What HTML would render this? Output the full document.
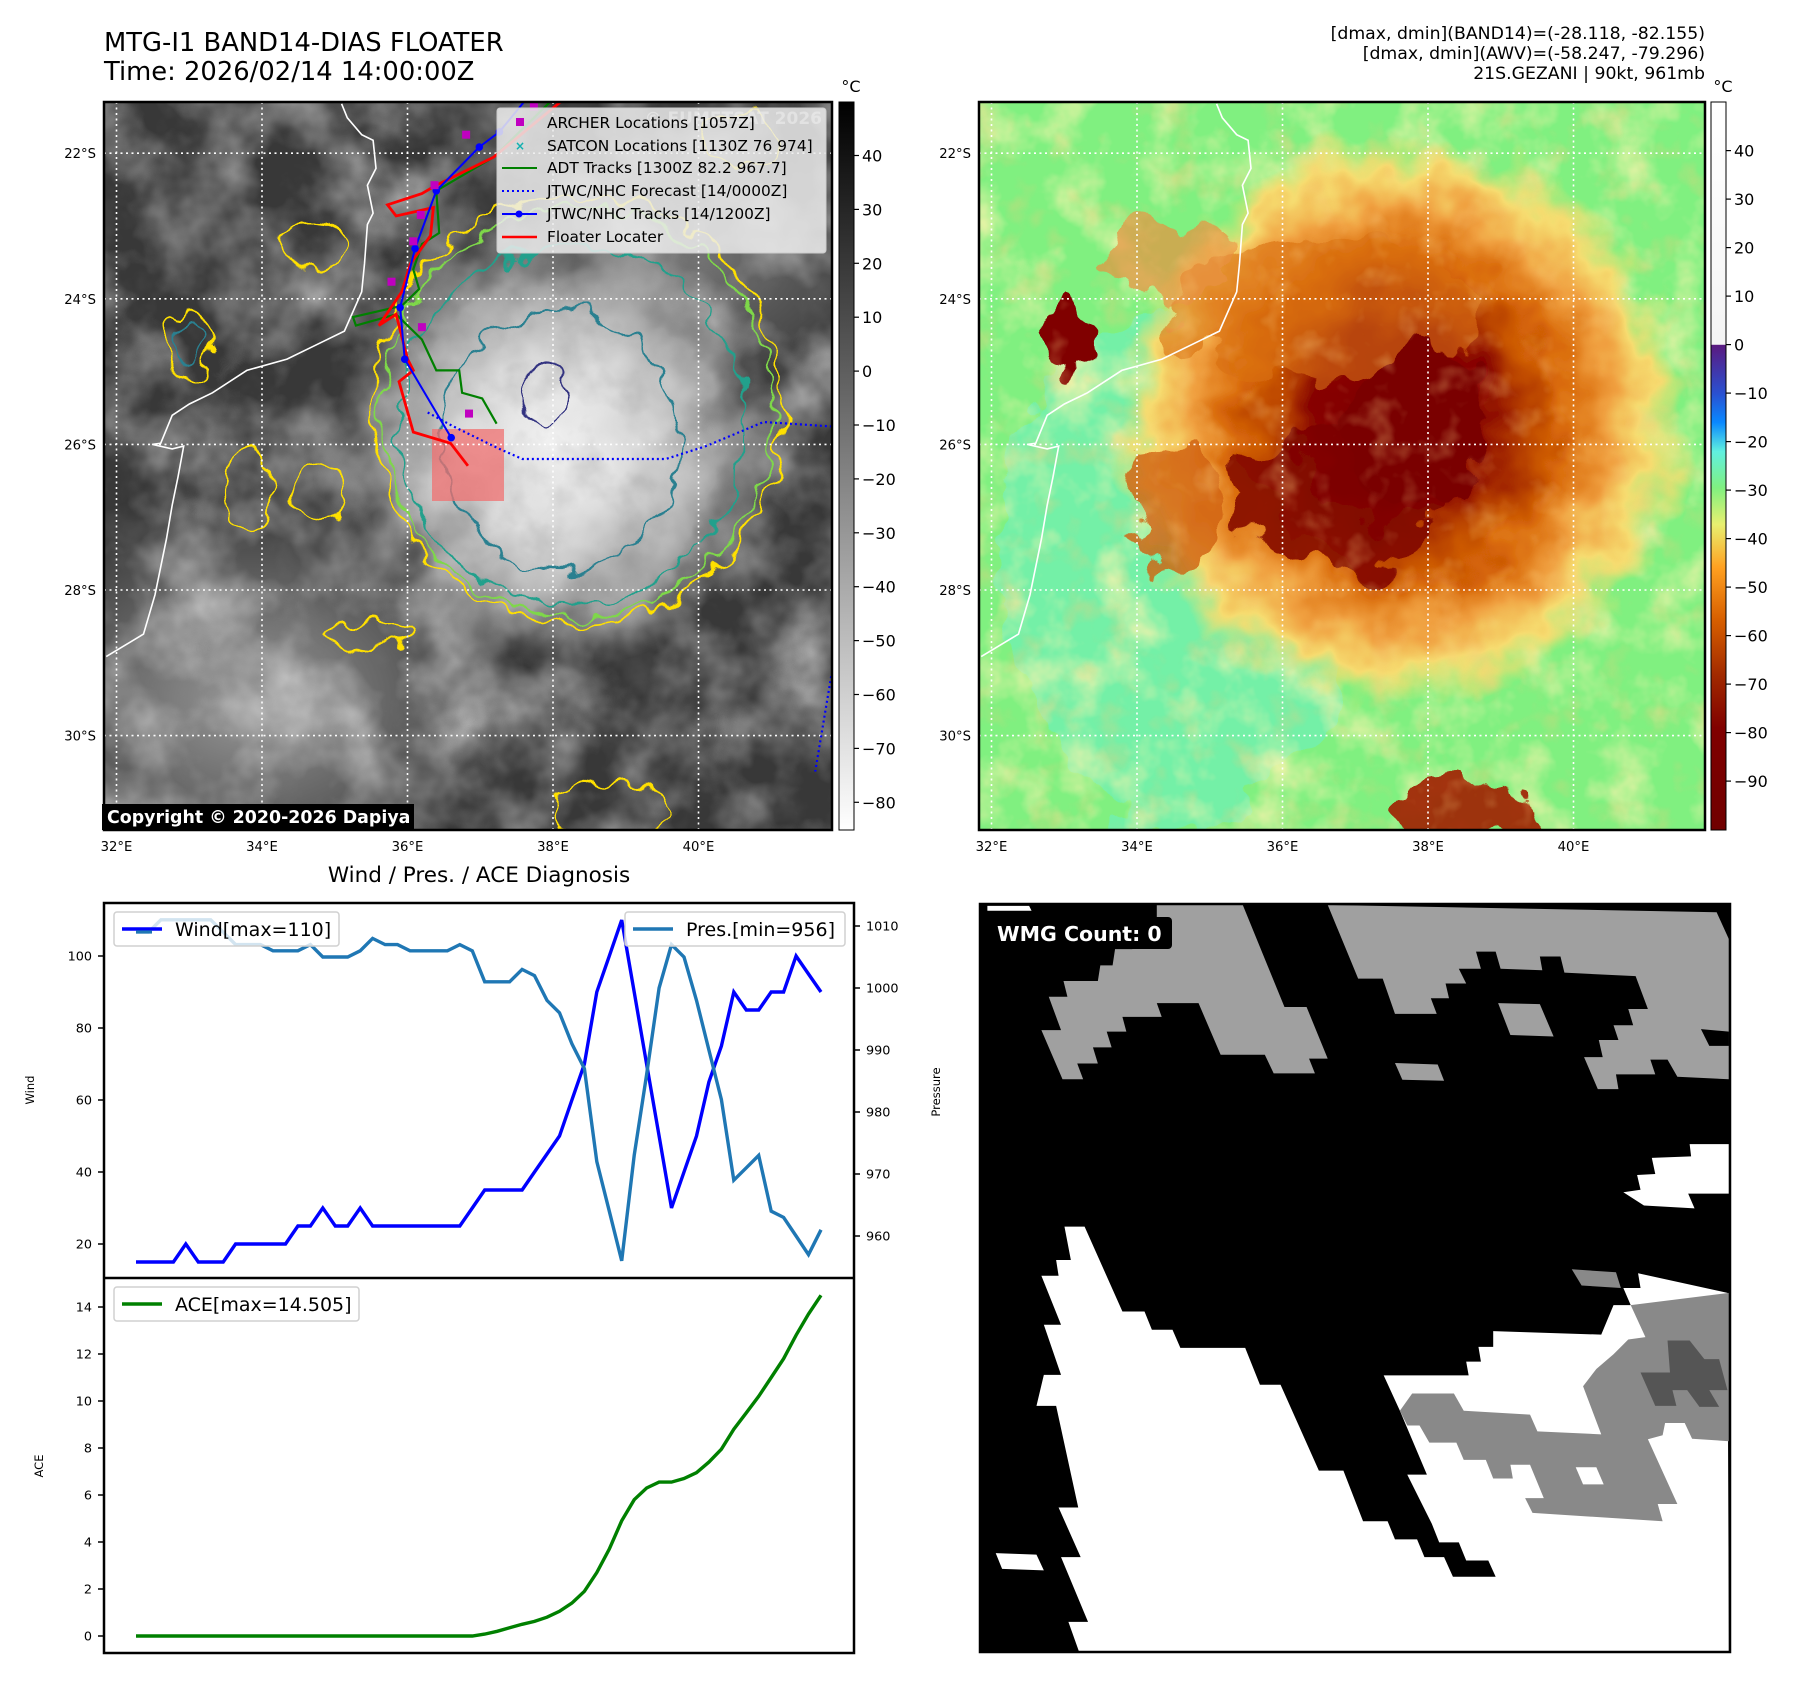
<!DOCTYPE html>
<html><head><meta charset="utf-8"><title>MTG-I1 BAND14 Floater</title>
<style>
html,body{margin:0;padding:0;background:#fff;}
body{width:1797px;height:1690px;overflow:hidden;font-family:"Liberation Sans","DejaVu Sans",sans-serif;}
svg text{font-family:"DejaVu Sans","Liberation Sans",sans-serif;}
</style></head>
<body>
<svg id="root" width="1797" height="1690" viewBox="0 0 1797 1690" xmlns="http://www.w3.org/2000/svg">
<defs>
  <clipPath id="clip1"><rect x="104" y="102" width="728" height="728"/></clipPath>
  <clipPath id="clip2"><rect x="979" y="102" width="726" height="728"/></clipPath>
  <clipPath id="clip3"><rect x="980" y="904" width="750" height="748"/></clipPath>
  <filter id="cloudNoise" x="0" y="0" width="100%" height="100%">
    <feTurbulence type="fractalNoise" baseFrequency="0.012" numOctaves="4" seed="7"/>
    <feColorMatrix type="matrix" values="0 0 0 0 1  0 0 0 0 1  0 0 0 0 1  1.2 0 0 0 -0.45"/>
  </filter>
  <filter id="darkNoise" x="0" y="0" width="100%" height="100%">
    <feTurbulence type="fractalNoise" baseFrequency="0.02" numOctaves="4" seed="19"/>
    <feColorMatrix type="matrix" values="0 0 0 0 0.2  0 0 0 0 0.2  0 0 0 0 0.2  1.3 0 0 0 -0.6"/>
  </filter>
  <filter id="greenNoise" x="0" y="0" width="100%" height="100%">
    <feTurbulence type="fractalNoise" baseFrequency="0.02" numOctaves="4" seed="3"/>
    <feColorMatrix type="matrix" values="0 0 0 0 0.97  0 0 0 0 0.9  0 0 0 0 0.42  1.8 0 0 0 -0.8"/>
  </filter>
  <filter id="orangeNoise" x="0" y="0" width="100%" height="100%">
    <feTurbulence type="fractalNoise" baseFrequency="0.03" numOctaves="3" seed="23"/>
    <feColorMatrix type="matrix" values="0 0 0 0 0.95  0 0 0 0 0.6  0 0 0 0 0.2  1.6 0 0 0 -0.85"/>
  </filter>
  <filter id="wobble" x="-20%" y="-20%" width="140%" height="140%">
    <feTurbulence type="fractalNoise" baseFrequency="0.035" numOctaves="2" seed="5" result="t"/>
    <feDisplacementMap in="SourceGraphic" in2="t" scale="34" xChannelSelector="R" yChannelSelector="G"/>
  </filter>
  <filter id="wobbleBig" x="-20%" y="-20%" width="140%" height="140%">
    <feTurbulence type="fractalNoise" baseFrequency="0.02" numOctaves="3" seed="11" result="t"/>
    <feDisplacementMap in="SourceGraphic" in2="t" scale="70" xChannelSelector="R" yChannelSelector="G"/>
  </filter>
  <radialGradient id="stormGray" cx="0.5" cy="0.5" r="0.5">
    <stop offset="0" stop-color="#f2f2f2"/>
    <stop offset="0.35" stop-color="#dcdcdc"/>
    <stop offset="0.7" stop-color="#a4a4a4"/>
    <stop offset="1" stop-color="#707070" stop-opacity="0"/>
  </radialGradient>
  <radialGradient id="lightPatch" cx="0.5" cy="0.5" r="0.5">
    <stop offset="0" stop-color="#9a9a9a"/>
    <stop offset="1" stop-color="#9a9a9a" stop-opacity="0"/>
  </radialGradient>
  <radialGradient id="stormColor" cx="0.5" cy="0.5" r="0.5">
    <stop offset="0" stop-color="#7a0000"/>
    <stop offset="0.3" stop-color="#880600"/>
    <stop offset="0.42" stop-color="#b03800"/>
    <stop offset="0.58" stop-color="#d86808"/>
    <stop offset="0.74" stop-color="#f0a040"/>
    <stop offset="0.87" stop-color="#f6dc70"/>
    <stop offset="1" stop-color="#f6e070" stop-opacity="0"/>
  </radialGradient>
  <linearGradient id="cb1" x1="0" y1="0" x2="0" y2="1">
    <stop offset="0" stop-color="#000"/><stop offset="1" stop-color="#fff"/>
  </linearGradient>
  <linearGradient id="cb2" x1="0" y1="0" x2="0" y2="1">
    <stop offset="0" stop-color="#ffffff"/>
    <stop offset="0.333" stop-color="#f4f4f4"/>
    <stop offset="0.334" stop-color="#5a1a80"/>
    <stop offset="0.40" stop-color="#2a50d0"/>
    <stop offset="0.44" stop-color="#0a88ff"/>
    <stop offset="0.48" stop-color="#60f0e0"/>
    <stop offset="0.53" stop-color="#80f080"/>
    <stop offset="0.58" stop-color="#e8f070"/>
    <stop offset="0.64" stop-color="#ffa020"/>
    <stop offset="0.71" stop-color="#d86000"/>
    <stop offset="0.79" stop-color="#a02800"/>
    <stop offset="0.86" stop-color="#800000"/>
    <stop offset="1" stop-color="#700000"/>
  </linearGradient>
</defs>

<!-- titles -->
<text x="104" y="51" font-size="25.8" fill="#000">MTG-I1 BAND14-DIAS FLOATER</text>
<text x="104" y="80" font-size="25.8" fill="#000">Time: 2026/02/14 14:00:00Z</text>
<g font-size="17.3" text-anchor="end" fill="#000">
  <text x="1705" y="39">[dmax, dmin](BAND14)=(-28.118, -82.155)</text>
  <text x="1705" y="59">[dmax, dmin](AWV)=(-58.247, -79.296)</text>
  <text x="1705" y="79">21S.GEZANI | 90kt, 961mb</text>
</g>

<!-- MAP 1 -->
<g id="map1">
  <g clip-path="url(#clip1)">
    <rect x="104" y="102" width="728" height="728" fill="#383838"/>
    <ellipse cx="250" cy="700" rx="260" ry="200" fill="url(#lightPatch)"/>
    <ellipse cx="700" cy="260" rx="200" ry="140" fill="url(#lightPatch)" opacity="0.6"/>
    <rect x="104" y="102" width="728" height="728" filter="url(#cloudNoise)"/>
    <g filter="url(#wobbleBig)">
      <ellipse cx="555" cy="445" rx="230" ry="230" fill="url(#stormGray)"/>
    </g>
    <rect x="104" y="102" width="728" height="728" filter="url(#darkNoise)" opacity="0.5"/>
    <g fill="none" stroke-width="2.2" filter="url(#wobble)">
      <ellipse cx="577" cy="410" rx="205" ry="215" stroke="#ffe000"/>
      <ellipse cx="577" cy="412" rx="196" ry="206" stroke="#7ed84a"/>
      <ellipse cx="572" cy="425" rx="172" ry="180" stroke="#22a08c"/>
      <ellipse cx="560" cy="440" rx="120" ry="130" stroke="#2a8090"/>
      <ellipse cx="545" cy="395" rx="22" ry="30" stroke="#303080"/>
      <ellipse cx="188" cy="345" rx="24" ry="34" stroke="#ffe000"/>
      <ellipse cx="188" cy="345" rx="14" ry="22" stroke="#2a8090"/>
      <ellipse cx="250" cy="490" rx="24" ry="40" stroke="#ffe000"/>
      <ellipse cx="320" cy="495" rx="25" ry="30" stroke="#ffe000"/>
      <ellipse cx="370" cy="635" rx="45" ry="14" stroke="#ffe000"/>
      <ellipse cx="610" cy="810" rx="60" ry="30" stroke="#ffe000"/>
      <ellipse cx="315" cy="245" rx="30" ry="25" stroke="#ffe000"/>
      <ellipse cx="740" cy="140" rx="40" ry="25" stroke="#ffe000"/>
    </g>
    <rect x="432" y="429" width="72" height="72" fill="#f07070" opacity="0.75"/>
    <g id="grid1" stroke="#fff" stroke-width="1.6" stroke-dasharray="2,3.5"></g>
    <polyline id="coast1" fill="none" stroke="#fff" stroke-width="1.6"/>
    <g id="tracks1"></g>
    <text x="822" y="124" font-size="17" font-weight="bold" fill="#fff" opacity="0.55" text-anchor="end">© EUMETSAT 2026</text>
  </g>
  <rect x="104" y="102" width="728" height="728" fill="none" stroke="#000" stroke-width="2.5"/>
  <g>
    <rect x="497" y="108" width="329" height="145" rx="3" fill="#ececec" fill-opacity="0.85" stroke="#ccc"/>
    <g font-size="15.4" fill="#000">
      <rect x="516" y="118" width="8" height="8" fill="#c000c0"/>
      <text x="547" y="128">ARCHER Locations [1057Z]</text>
      <text x="520" y="150" font-size="12" fill="#10b0b0" text-anchor="middle" font-weight="bold">×</text>
      <text x="547" y="151">SATCON Locations [1130Z 76 974]</text>
      <line x1="502" y1="168" x2="537" y2="168" stroke="#008000" stroke-width="2"/>
      <text x="547" y="173">ADT Tracks [1300Z 82.2 967.7]</text>
      <line x1="502" y1="191" x2="537" y2="191" stroke="#0000ff" stroke-width="2" stroke-dasharray="2,3"/>
      <text x="547" y="196">JTWC/NHC Forecast [14/0000Z]</text>
      <line x1="502" y1="214" x2="537" y2="214" stroke="#0000ff" stroke-width="2"/>
      <circle cx="519" cy="214" r="3.5" fill="#0000ff"/>
      <text x="547" y="219">JTWC/NHC Tracks [14/1200Z]</text>
      <line x1="502" y1="237" x2="537" y2="237" stroke="#ff0000" stroke-width="2.5"/>
      <text x="547" y="242">Floater Locater</text>
    </g>
  </g>
  <g>
    <rect x="102" y="804" width="312" height="26" fill="#000"/>
    <text x="107" y="823" font-size="17.4" font-weight="bold" fill="#fff">Copyright © 2020-2026 Dapiya</text>
  </g>
  <g id="ticks1" font-size="13.2" fill="#000"></g>
  <rect x="839" y="102" width="15" height="728" fill="url(#cb1)" stroke="#000" stroke-width="1"/>
  <text x="851" y="92" font-size="16" text-anchor="middle">°C</text>
  <g id="cbt1" font-size="16" fill="#000"></g>
</g>

<!-- MAP 2 -->
<g id="map2">
  <g clip-path="url(#clip2)">
    <rect x="979" y="102" width="726" height="728" fill="#80f080"/>
    <ellipse cx="1180" cy="560" rx="180" ry="260" fill="#70f0b8" opacity="0.7" filter="url(#wobbleBig)"/>
    <rect x="979" y="102" width="726" height="728" filter="url(#greenNoise)"/>
    <g filter="url(#wobbleBig)">
      <ellipse cx="1400" cy="420" rx="285" ry="285" fill="url(#stormColor)"/>
      <ellipse cx="1330" cy="310" rx="160" ry="70" fill="#d87010" opacity="0.6"/>
      <ellipse cx="1420" cy="430" rx="70" ry="80" fill="#7a0000"/>
      <ellipse cx="1340" cy="500" rx="100" ry="70" fill="#7a0000" opacity="0.8"/>
      <ellipse cx="1180" cy="510" rx="45" ry="70" fill="#d06010" opacity="0.8"/>
      <ellipse cx="1470" cy="815" rx="80" ry="30" fill="#a02000" opacity="0.9"/>
      <ellipse cx="1070" cy="345" rx="24" ry="33" fill="#800000"/>
      <ellipse cx="1170" cy="260" rx="60" ry="40" fill="#e89040" opacity="0.7"/>
    </g>
    <rect x="979" y="102" width="726" height="728" filter="url(#orangeNoise)" opacity="0.6"/>
    <g id="grid2" stroke="#fff" stroke-width="1.6" stroke-dasharray="2,3.5"></g>
    <polyline id="coast2" fill="none" stroke="#fff" stroke-width="1.6"/>
  </g>
  <rect x="979" y="102" width="726" height="728" fill="none" stroke="#000" stroke-width="2.5"/>
  <g id="ticks2" font-size="13.2" fill="#000"></g>
  <rect x="1711" y="102" width="15" height="728" fill="url(#cb2)" stroke="#000" stroke-width="1"/>
  <text x="1723" y="92" font-size="16" text-anchor="middle">°C</text>
  <g id="cbt2" font-size="16" fill="#000"></g>
</g>

<!-- DIAGNOSIS CHART -->
<text x="479" y="882" font-size="21.5" text-anchor="middle">Wind / Pres. / ACE Diagnosis</text>
<g id="chart"></g>

<!-- WMG PANEL -->
<g>
  <g clip-path="url(#clip3)">
    <g transform="translate(980,900) scale(0.4911)">
      <rect x="0" y="0" width="1530" height="1540" fill="#000"/>
      <polygon fill="#fff" points="172,665 213,665 290,838 335,838 350,875 392,875 408,912 540,912 570,987 612,987 690,1162 740,1162 780,1265 830,1265 845,1302 890,1302 905,1338 945,1338 963,1378 1050,1378 1035,1345 990,1345 975,1308 935,1308 920,1270 870,1170 910,1170 855,1040 822,968 995,968 990,940 1020,940 1015,910 1045,910 1045,878 1265,885 1290,825 1325,825 1310,790 1345,790 1340,760 1522,800 1525,1540 205,1540 180,1470 220,1470 165,1338 205,1338 160,1237 200,1237 155,1030 115,1030 130,967 165,967 130,865 165,865 125,765 160,765 155,733 185,733"/>
      <polygon fill="#898989" points="855,1040 880,1005 965,1005 985,1040 1120,1048 1135,1082 1265,1088 1228,990 1255,955 1290,925 1320,895 1355,890 1325,825 1525,800 1525,1102 1450,1097 1435,1065 1395,1065 1390,1090 1360,1098 1420,1230 1380,1230 1390,1265 1125,1248 1110,1218 1148,1218 1120,1150 1080,1150 1085,1178 1045,1178 1030,1140 985,1140 970,1105 915,1105 895,1070 870,1070"/>
      <polygon fill="#fff" points="1213,1155 1255,1155 1270,1190 1228,1190"/>
      <polygon fill="#898989" points="1205,752 1295,758 1305,790 1225,785"/>
      <polygon fill="#555" points="1345,962 1405,962 1400,897 1445,897 1475,935 1505,935 1522,998 1485,998 1505,1032 1465,1032 1440,998 1410,998 1418,1030 1375,1030"/>
      <polygon fill="#a0a0a0" points="360,10 535,10 620,218 665,218 708,323 670,323 682,353 598,353 580,315 490,315 445,210 360,210 370,238 290,238 298,268 258,268 268,300 230,300 240,333 198,333 210,365 168,365 125,265 165,265 140,197 178,197 170,165 240,165 245,133 270,133 275,100 310,100 330,45 360,45"/>
      <polygon fill="#a0a0a0" points="708,10 1500,25 1525,80 1525,365 1420,360 1400,325 1365,325 1375,355 1295,355 1300,385 1258,385 1230,320 1268,320 1260,285 1300,285 1290,255 1330,255 1320,222 1360,222 1335,155 1190,148 1182,115 1140,115 1145,143 1060,140 1050,105 1010,105 1020,140 975,140 990,170 948,170 955,200 918,200 930,232 845,232 820,160 770,160"/>
      <polygon fill="#000" points="1468,263 1525,268 1525,297 1485,297"/>
      <polygon fill="#a0a0a0" points="1055,210 1140,212 1168,278 1080,275"/>
      <polygon fill="#a0a0a0" points="845,332 932,335 945,368 860,366"/>
      <polygon fill="#fff" points="1445,497 1525,497 1525,598 1442,598 1455,628 1352,622 1310,595 1345,590 1338,560 1375,558 1368,525 1448,522"/>
      <polygon fill="#fff" points="32,1330 115,1333 130,1365 45,1362"/>
      <polygon fill="#fff" points="15,12 100,12 105,22 15,22"/>
    </g>
  </g>
  <rect x="980" y="904" width="750" height="748" fill="none" stroke="#000" stroke-width="2.5"/>
  <rect x="990" y="917" width="182" height="32" rx="4" fill="#000"/>
  <text x="997" y="941" font-size="20.5" font-weight="bold" fill="#fff">WMG Count: 0</text>
</g>
</svg>

<script>
// ---- chart data ----
const windValues = [15,15,15,15,20,15,15,15,20,20,20,20,20,25,25,30,25,25,30,25,25,25,25,25,25,25,25,30,35,35,35,35,40,45,50,60,70,90,100,110,90,70,50,30,40,50,65,75,90,85,85,90,90,100,95,90];
const presValues = [1009,1009,1011,1011,1011,1011,1011,1009,1007,1007,1007,1006,1006,1006,1007,1005,1005,1005,1006,1008,1007,1007,1006,1006,1006,1006,1007,1006,1001,1001,1001,1003,1002,998,996,991,987,972,964,956,973,986,1000,1007,1005,998,990,982,969,971,973,964,963,960,957,961];
const aceValues = [0,0,0,0,0,0,0,0,0,0,0,0,0,0,0,0,0,0,0,0,0,0,0,0,0,0,0,0,0.08,0.2,0.35,0.5,0.62,0.8,1.05,1.4,1.9,2.7,3.7,4.9,5.8,6.3,6.55,6.55,6.7,6.95,7.4,7.95,8.8,9.5,10.2,11.0,11.8,12.8,13.7,14.5];
const windTicks = [20,40,60,80,100];
const presTicks = [960,970,980,990,1000,1010];
const aceTicks = [0,2,4,6,8,10,12,14];
const lonTicks = [32,34,36,38,40];
const latTicks = [22,24,26,28,30];
const cb1Ticks = [40,30,20,10,0,-10,-20,-30,-40,-50,-60,-70,-80];
const cb2Ticks = [40,30,20,10,0,-10,-20,-30,-40,-50,-60,-70,-80,-90];

const NS='http://www.w3.org/2000/svg';
function mk(tag, attrs, parent){const e=document.createElementNS(NS,tag);for(const k in attrs)e.setAttribute(k,attrs[k]);if(parent)parent.appendChild(e);return e;}
const fmt = v => (v<0?'\u2212'+Math.abs(v):String(v));

// ---- map axes ----
function lonX(lon, off){return off + 116.5 + (lon-32)*72.75;}
function latY(lat){return 153.2 + (lat-22)*72.8;}
function buildMap(gridId, ticksId, off, x0, x1){
  const g=document.getElementById(gridId), t=document.getElementById(ticksId);
  lonTicks.forEach(lon=>{
    const x=lonX(lon,off);
    const l=mk('line',{x1:x,y1:102,x2:x,y2:830},g);
    
    
    const tx=mk('text',{x:x,y:851,'text-anchor':'middle'},t);tx.textContent=lon+'°E';
    
    
  });
  latTicks.forEach(lat=>{
    const y=latY(lat);
    const l=mk('line',{x1:x0,y1:y,x2:x1,y2:y},g);
    
    
    const tx=mk('text',{x:x0-8,y:y+5,'text-anchor':'end'},t);tx.textContent=lat+'°S';
    
    
  });
}
buildMap('grid1','ticks1',0,104,832);
buildMap('grid2','ticks2',875,979,1705);

// colorbars
function buildCb(id, ticks, x, yOf){
  const g=document.getElementById(id);
  ticks.forEach(v=>{
    const y=yOf(v);
    mk('line',{x1:x,y1:y,x2:x+5,y2:y,stroke:'#000','stroke-width':1.2},g);
    const tx=mk('text',{x:x+8,y:y+6},g);tx.textContent=fmt(v);
    
    
  });
}
buildCb('cbt1',cb1Ticks,854,v=>155.5+(40-v)*5.39);
buildCb('cbt2',cb2Ticks,1726,v=>150.6+(40-v)*4.85);

// coast & tracks (reference-zoom coordinates -> page)
const coastZ=[[595,185],[605,210],[630,240],[650,250],[655,300],[640,330],[650,380],[640,400],[635,470],[630,520],[600,590],[560,610],[500,640],[430,660],[370,700],[330,720],[300,740],[280,790],[265,792],[300,800],[320,795],[310,850],[300,900],[290,960],[270,1060],[250,1130],[185,1170]];
const Z=p=>[p[0]/1.742,p[1]/1.782];
const pts=(arr,off)=>arr.map(p=>{const q=Z(p);return (q[0]+off).toFixed(1)+','+q[1].toFixed(1);}).join(' ');
document.getElementById('coast1').setAttribute('points',pts(coastZ,0));
document.getElementById('coast2').setAttribute('points',pts(coastZ,875));

const tr=document.getElementById('tracks1');
const fcZ=[[745,735],[790,760],[870,800],[910,818],[1160,818],[1230,795],[1330,752],[1450,760]];
const fc=mk('polyline',{points:pts(fcZ,0),fill:'none',stroke:'#0000ff','stroke-width':2.2,'stroke-dasharray':'2,3'},tr);


const fc2=mk('polyline',{points:pts([[1448,1205],[1420,1375]],0),fill:'none',stroke:'#0000ff','stroke-width':2.2,'stroke-dasharray':'2,3'},tr);


const adtZ=[[990,150],[860,280],[760,340],[765,415],[735,435],[720,480],[730,515],[700,545],[615,565],[620,580],[690,560],[735,605],[760,660],[800,660],[805,700],[840,710],[865,755]];
const adt=mk('polyline',{points:pts(adtZ,0),fill:'none',stroke:'#008000','stroke-width':2.2},tr);


const redZ=[[990,170],[860,280],[760,330],[735,345],[675,365],[690,385],[755,370],[750,420],[715,470],[700,520],[660,580],[690,560],[700,600],[710,640],[720,660],[695,680],[720,770],[785,790],[815,830]];
const red=mk('polyline',{points:pts(redZ,0),fill:'none',stroke:'#ff0000','stroke-width':2.8},tr);


const blueZ=[[930,160],[870,235],[835,262],[760,340],[723,443],[697,548],[705,640],[786,780]];
const blue=mk('polyline',{points:pts(blueZ,0),fill:'none',stroke:'#0000ff','stroke-width':2},tr);


blueZ.slice(1).forEach(p=>{const q=Z(p);const c=mk('circle',{cx:q[0],cy:q[1],r:3.8,fill:'#0000ff'},tr);
  
  });
[[812,240],[757,330],[733,383],[720,430],[682,502],[735,583],[817,737],[930,190]].forEach(p=>{const q=Z(p);const s=mk('rect',{x:q[0]-4,y:q[1]-4,width:8,height:8,fill:'#c000c0'},tr);
  
  });

// ---- diagnosis chart ----
const C=document.getElementById('chart');
const X0=104, X1=854, TOP=903, MID=1278, BOT=1653;
const xOf=i=>136+i*(821-136)/55;
const yWind=v=>1244-(v-20)*3.6;
const yPres=v=>1236-(v-960)*6.2;
const yAce=v=>1636-v*23.5;
function axisTicks(ticks,yf,side,fn){
  ticks.forEach(v=>{
    const y=yf(v);
    if(side==='left'){
      mk('line',{x1:X0-6,y1:y,x2:X0,y2:y,stroke:'#000','stroke-width':1.5},C);
      const t=mk('text',{x:X0-12,y:y+4.5,'font-size':12.8,'text-anchor':'end'},C);t.textContent=fn(v);
      
      
    } else {
      mk('line',{x1:X1,y1:y,x2:X1+6,y2:y,stroke:'#000','stroke-width':1.5},C);
      const t=mk('text',{x:X1+12,y:y+4.5,'font-size':12.8},C);t.textContent=fn(v);
      
      
    }
  });
}
axisTicks(windTicks,yWind,'left',String);
axisTicks(presTicks,yPres,'right',String);
axisTicks(aceTicks,yAce,'left',String);
function line(vals,yf,color,name){
  const p=mk('polyline',{points:vals.map((v,i)=>xOf(i).toFixed(1)+','+yf(v).toFixed(1)).join(' '),fill:'none',stroke:color,'stroke-width':3.4,'stroke-linejoin':'miter'},C);
  
  
}
line(windValues,yWind,'#0000ff','wind-line');
line(presValues,yPres,'#1f77b4','pressure-line');
line(aceValues,yAce,'#008000','ace-line');
mk('rect',{x:X0,y:TOP,width:X1-X0,height:BOT-TOP,fill:'none',stroke:'#000','stroke-width':2.5},C);
mk('line',{x1:X0,y1:MID,x2:X1,y2:MID,stroke:'#000','stroke-width':2.5},C);
function label(txt,x,y,name){const t=mk('text',{x:x,y:y,'font-size':11.5,'text-anchor':'middle',transform:'rotate(-90 '+x+' '+y+')'},C);t.textContent=txt;
  
  }
label('Wind',34,1090,'wind-axis-title');
label('Pressure',940,1092,'pressure-axis-title');
label('ACE',43,1466,'ace-axis-title');
function legend(x,y,w,color,txt,name){
  const g=mk('g',{},C);
  
  
  mk('rect',{x:x,y:y,width:w,height:34,rx:3,fill:'#fff','fill-opacity':0.8,stroke:'#d0d0d0','stroke-width':1.5},g);
  mk('line',{x1:x+8,y1:y+17,x2:x+48,y2:y+17,stroke:color,'stroke-width':3.4},g);
  const t=mk('text',{x:x+61,y:y+24,'font-size':19},g);t.textContent=txt;
}
legend(114,912,225,'#0000ff','Wind[max=110]','legend-wind');
mk('line',{x1:136,y1:932,x2:152,y2:932,stroke:'#1f77b4','stroke-width':3.2},C);
legend(625,912,220,'#1f77b4','Pres.[min=956]','legend-pressure');
legend(114,1287,245,'#008000','ACE[max=14.505]','legend-ace');
</script>
</body></html>
